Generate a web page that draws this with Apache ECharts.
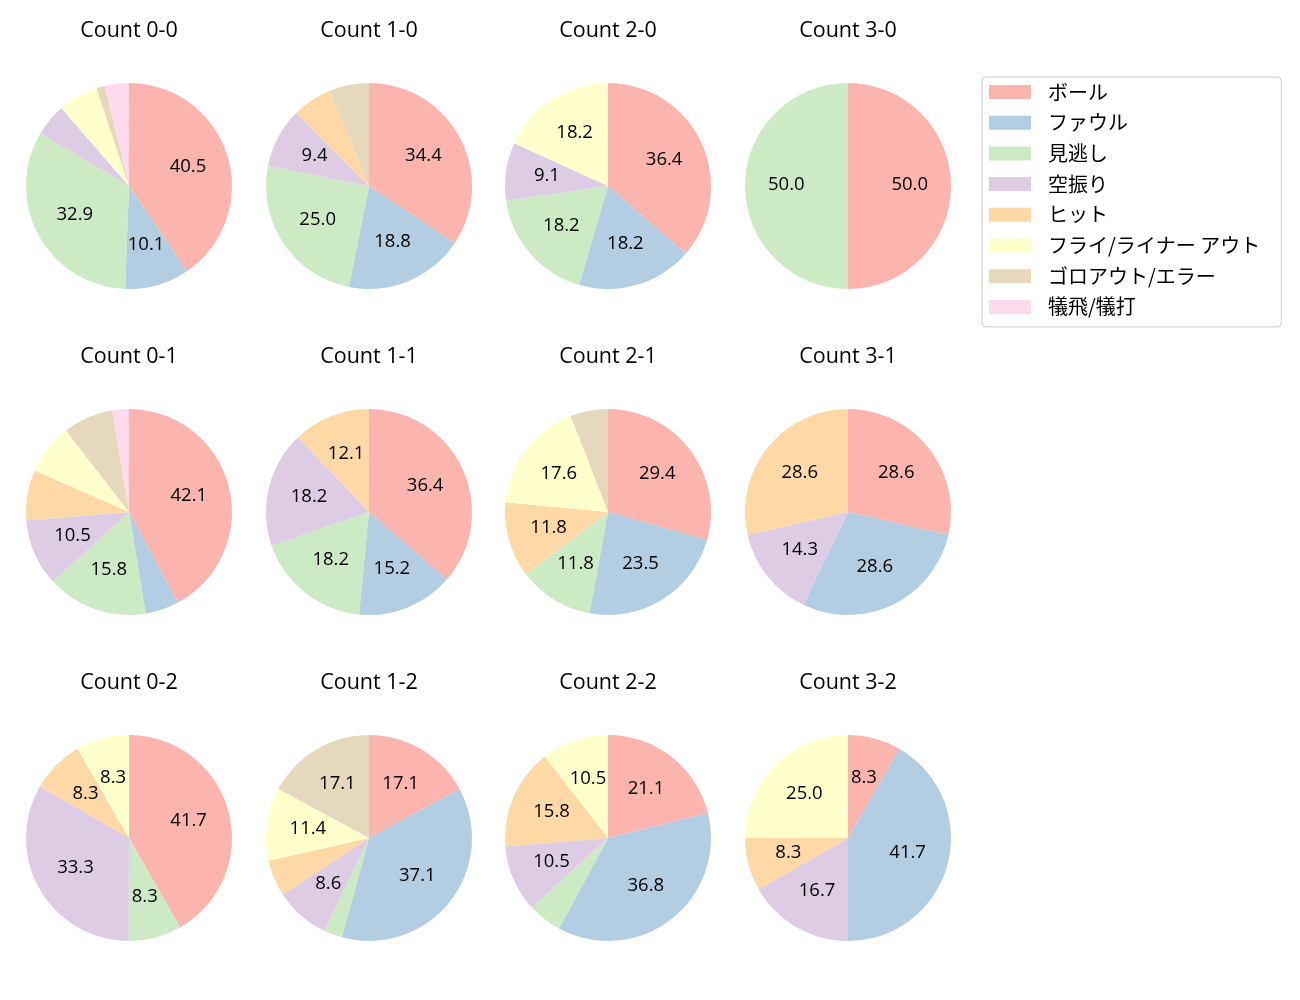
<!DOCTYPE html>
<html><head><meta charset="utf-8">
<script src="https://cdn.jsdelivr.net/npm/echarts@6/dist/echarts.min.js"></script>
<style>html,body{margin:0;padding:0;background:#fff}#c{width:1300px;height:1000px}</style>
</head><body><div id="c"></div>
<script>
const categories = ['ボール','ファウル','見逃し','空振り','ヒット','フライ/ライナー アウト','ゴロアウト/エラー','犠飛/犠打'];
const colors = ['#fbb4ae','#b3cde3','#ccebc5','#decbe4','#fed9a6','#ffffcc','#e5d8bd','#fddaec'];
const titles = ['Count 0-0','Count 1-0','Count 2-0','Count 3-0','Count 0-1','Count 1-1','Count 2-1','Count 3-1','Count 0-2','Count 1-2','Count 2-2','Count 3-2'];
// percentages per category (order of categories)
const count00 = [40.5, 10.1, 32.9, 5.1, 0, 6.3, 1.3, 3.8];
const count10 = [34.4, 18.8, 25.0, 9.4, 6.25, 0, 6.25, 0];
const count20 = [36.4, 18.2, 18.2, 9.1, 0, 18.2, 0, 0];
const count30 = [50.0, 0, 50.0, 0, 0, 0, 0, 0];
const count01 = [42.1, 5.3, 15.8, 10.5, 7.9, 7.9, 7.9, 2.6];
const count11 = [36.4, 15.2, 18.2, 18.2, 12.1, 0, 0, 0];
const count21 = [29.4, 23.5, 11.8, 0, 11.8, 17.6, 5.9, 0];
const count31 = [28.6, 28.6, 0, 14.3, 28.6, 0, 0, 0];
const count02 = [41.7, 0, 8.3, 33.3, 8.3, 8.3, 0, 0];
const count12 = [17.1, 37.1, 2.9, 8.6, 5.7, 11.4, 17.1, 0];
const count22 = [21.1, 36.8, 5.3, 10.5, 15.8, 10.5, 0, 0];
const count32 = [8.3, 41.7, 0, 16.7, 8.3, 25.0, 0, 0];
const allCounts = [count00,count10,count20,count30,count01,count11,count21,count31,count02,count12,count22,count32];

const colX = [129, 369, 608, 848];
const rowY = [186, 512, 838];
const R = 103;
const LATIN = '"Open Sans", "Noto Sans CJK JP", sans-serif';
const CJK = '"Noto Sans CJK JP", sans-serif';

const series = [];
const title = [];
allCounts.forEach((vals, i) => {
  const cx = colX[i % 4], cy = rowY[Math.floor(i / 4)];
  const data = [];
  vals.forEach((v, k) => { if (v > 0) data.push({name: categories[k], value: v, itemStyle: {color: colors[k]}}); });
  const sum = vals.reduce((a, b) => a + b, 0);
  series.push({
    type: 'pie', center: [cx, cy], radius: [0, R], startAngle: 90, clockwise: true,
    label: {show: false}, labelLine: {show: false}, emphasis: {disabled: true},
    itemStyle: {borderWidth: 0}, animation: false, data: data
  });
  series.push({
    type: 'pie', center: [cx, cy], radius: [R * 0.14, R], startAngle: 90, clockwise: true,
    silent: true, animation: false, emphasis: {disabled: true}, labelLine: {show: false},
    itemStyle: {color: 'rgba(0,0,0,0)', borderWidth: 0},
    label: {show: true, position: 'inside', color: '#000', fontSize: 18.5, fontFamily: LATIN, offset: [0, -1],
      formatter: p => { const pct = p.value / sum * 100; return pct >= 8 ? pct.toFixed(1) : ''; }},
    data: data.map(d => ({name: d.name, value: d.value, itemStyle: {color: 'rgba(0,0,0,0)'}}))
  });
  title.push({text: titles[i], left: cx, top: cy - 167, textAlign: 'center', padding: 0,
    textStyle: {fontSize: 21.5, fontWeight: 'normal', color: '#000', fontFamily: LATIN, lineHeight: 24}});
});

const chart = echarts.init(document.getElementById('c'), null, {renderer: 'canvas'});
chart.setOption({
  animation: false,
  title: title,
  legend: {
    orient: 'vertical', left: 982, top: 77, icon: 'rect', itemWidth: 42, itemHeight: 14, itemGap: 10.7,
    padding: [5, 21, 10, 7], borderColor: '#cccccc', borderWidth: 1, borderRadius: 4,
    selectedMode: false,
    textStyle: {fontSize: 20, color: '#000', fontFamily: CJK, lineHeight: 20, padding: [0, 0, 0, 12]},
    data: categories.map((c, k) => ({name: c, itemStyle: {color: colors[k]}}))
  },
  series: series
});
</script></body></html>
